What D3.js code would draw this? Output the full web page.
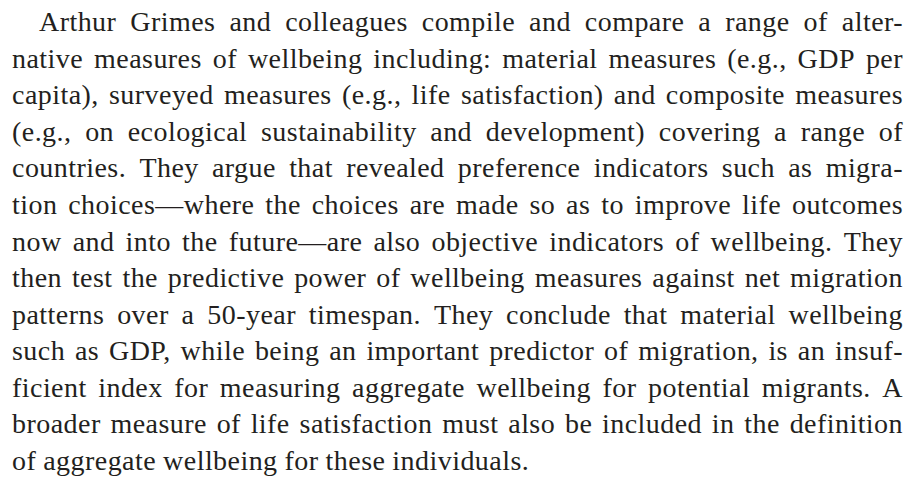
<!DOCTYPE html>
<html>
<head>
<meta charset="utf-8">
<script src="https://cdn.jsdelivr.net/npm/d3@7"></script>
<style>
  html, body { margin: 0; padding: 0; background: #fff; }
</style>
</head>
<body>
<div id="chart"></div>
<script>
// lines of the paragraph, as set in the reference
const lines = [
  "Arthur Grimes and colleagues compile and compare a range of alter-",
  "native measures of wellbeing including: material measures (e.g., GDP per",
  "capita), surveyed measures (e.g., life satisfaction) and composite measures",
  "(e.g., on ecological sustainability and development) covering a range of",
  "countries. They argue that revealed preference indicators such as migra-",
  "tion choices\u2014where the choices are made so as to improve life outcomes",
  "now and into the future\u2014are also objective indicators of wellbeing. They",
  "then test the predictive power of wellbeing measures against net migration",
  "patterns over a 50-year timespan. They conclude that material wellbeing",
  "such as GDP, while being an important predictor of migration, is an insuf-",
  "ficient index for measuring aggregate wellbeing for potential migrants. A",
  "broader measure of life satisfaction must also be included in the definition",
  "of aggregate wellbeing for these individuals."
];
const lineIndent = [27, 0, 0, 0, 0, 0, 0, 0, 0, 0, 0, 0, 0];
const justified = [true, true, true, true, true, true, true, true, true, true, true, true, false];

const width = 909, height = 480;
const fontSize = 28;
const left = 12, right = 903;

const svg = d3.select("#chart")
    .append("svg")
    .attr("width", width)
    .attr("height", height);

// baseline of each line
const y = d3.scaleLinear()
    .domain([0, lines.length - 1])
    .range([31, 470]);

const text = svg.selectAll(".line")
    .data(lines)
    .enter()
    .append("text")
    .attr("class", "line")
    .attr("y", (d, i) => y(i))
    .style("font-family", "'Liberation Serif', 'Times New Roman', serif")
    .style("font-size", fontSize + "px")
    .style("letter-spacing", "0.45px")
    .style("fill", "#231f20");

text.each(function (d, i) {
    const words = d.split(" ");
    const t = d3.select(this);
    const spans = t.selectAll("tspan")
        .data(words)
        .enter()
        .append("tspan")
        .text(w => w);

    const widths = [];
    spans.each(function () { widths.push(this.getComputedTextLength()); });

    const start = left + lineIndent[i];
    const total = d3.sum(widths);
    const gap = justified[i]
        ? (right - start - total) / (words.length - 1)
        : fontSize * 0.25;

    let x = start;
    spans.attr("x", (w, j) => {
        const pos = x;
        x += widths[j] + gap;
        return pos;
    });
});
</script>
</body>
</html>
